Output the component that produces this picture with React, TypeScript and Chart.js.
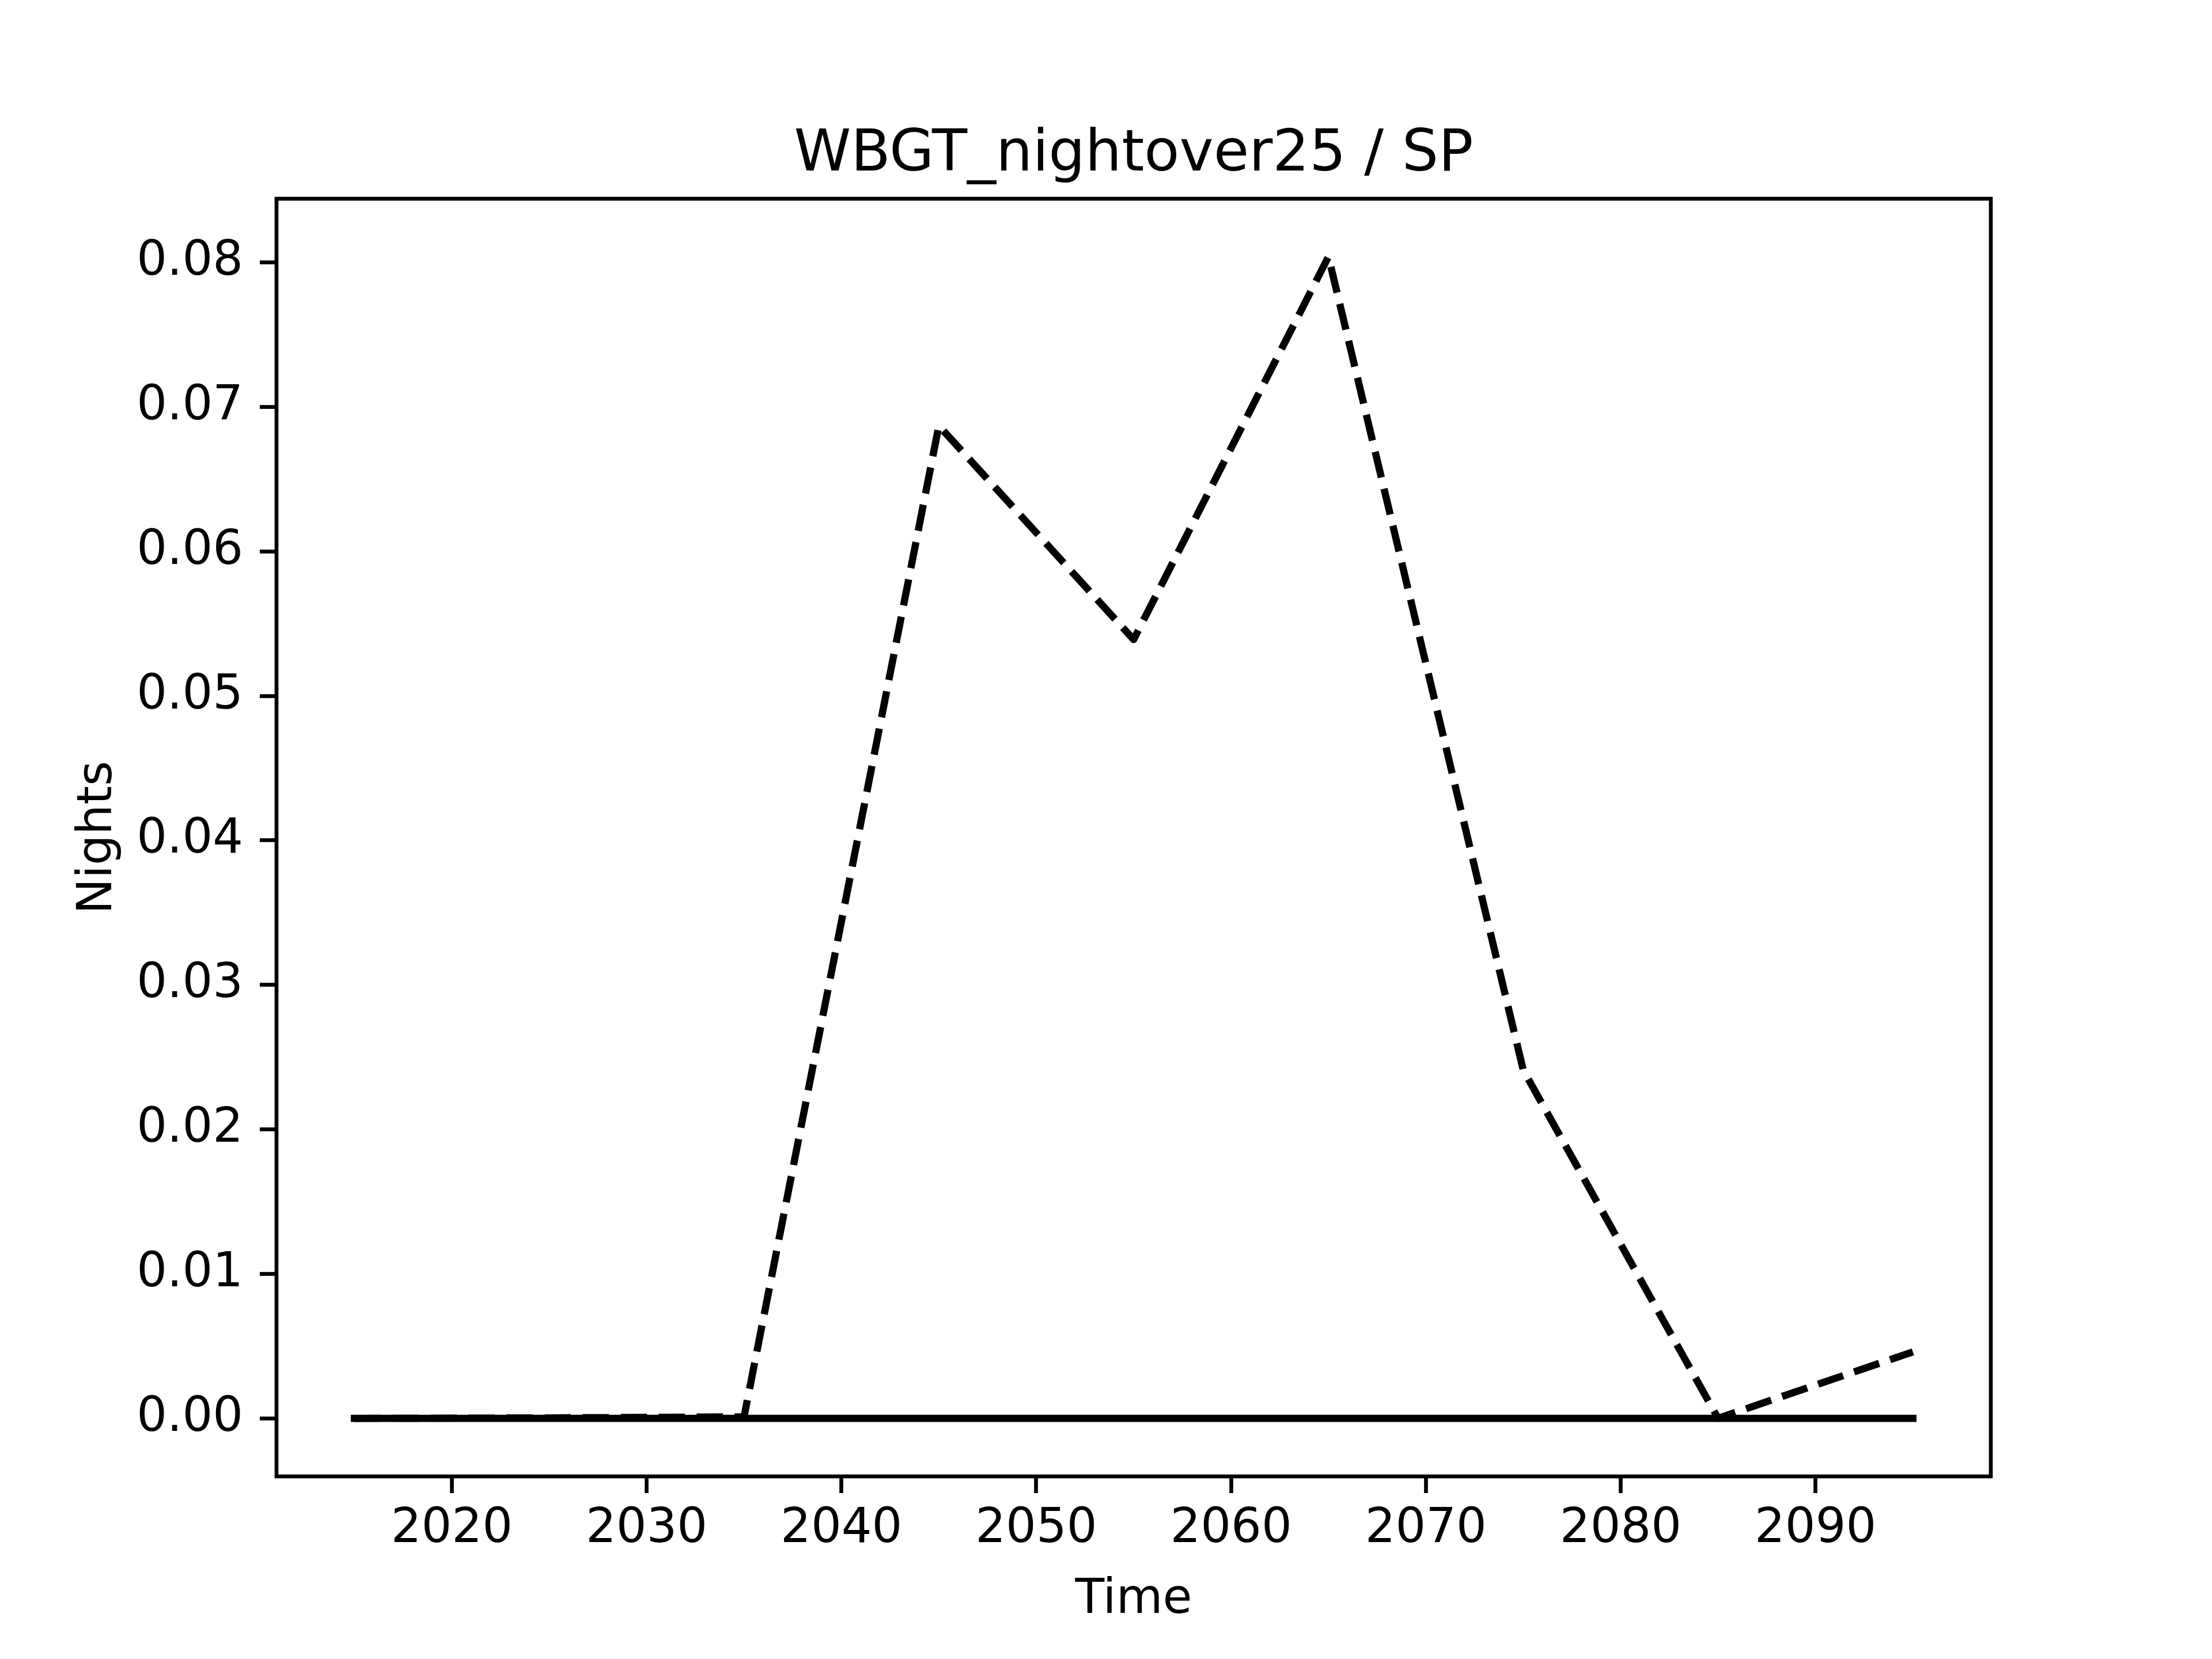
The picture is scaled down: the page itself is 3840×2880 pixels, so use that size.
import React, { useEffect, useRef } from "react";
import { Chart, registerables } from "chart.js";

Chart.register(...registerables);

const years = [2015, 2025, 2035, 2045, 2055, 2065, 2075, 2085, 2095];
const solidValues = [0, 0, 0, 0, 0, 0, 0, 0, 0];
const dashedValues = [0, 0.00003, 0.0001, 0.0687, 0.0539, 0.0804, 0.0241, 0, 0.0046];
const xTicks = [2020, 2030, 2040, 2050, 2060, 2070, 2080, 2090];
const yTicks = [0, 0.01, 0.02, 0.03, 0.04, 0.05, 0.06, 0.07, 0.08];
const titleText = "WBGT_nightover25 / SP";
const xLabel = "Time";
const yLabel = "Nights";

const W = 3840;
const H = 2880;
const FONT = "'DejaVu Sans', sans-serif";

export default function App() {
  const ref = useRef<HTMLCanvasElement | null>(null);

  useEffect(() => {
    const canvas = ref.current;
    if (!canvas) return;

    const textPlugin = {
      id: "mplText",
      afterDatasetsDraw(chart: any) {
        const ctx = chart.ctx;
        const a = chart.chartArea;
        ctx.save();
        // frame (spines)
        ctx.strokeStyle = "#000";
        ctx.lineWidth = 6.67;
        ctx.lineJoin = "miter";
        ctx.strokeRect(a.left, a.top, a.right - a.left, a.bottom - a.top);
        ctx.fillStyle = "#000";
        // title
        ctx.font = `100px ${FONT}`;
        ctx.textAlign = "center";
        ctx.textBaseline = "alphabetic";
        ctx.fillText(titleText, (a.left + a.right) / 2, 296);
        // x label
        ctx.font = `83px ${FONT}`;
        ctx.fillText(xLabel, (a.left + a.right) / 2, 2800);
        // y label
        ctx.translate(193, (a.top + a.bottom) / 2);
        ctx.rotate(-Math.PI / 2);
        ctx.fillText(yLabel, 0, 0);
        ctx.restore();
      },
    };

    const chart = new Chart(canvas, {
      type: "line",
      data: {
        datasets: [
          {
            label: "solid",
            data: years.map((x, i) => ({ x, y: solidValues[i] })),
            borderColor: "#000",
            backgroundColor: "#000",
            borderWidth: 12.5,
            borderCapStyle: "square",
            borderJoinStyle: "round",
            pointRadius: 0,
            tension: 0,
            fill: false,
          },
          {
            label: "dashed",
            data: years.map((x, i) => ({ x, y: dashedValues[i] })),
            borderColor: "#000",
            backgroundColor: "#000",
            borderWidth: 12.5,
            borderDash: [46, 20],
            borderCapStyle: "butt",
            borderJoinStyle: "round",
            pointRadius: 0,
            tension: 0,
            fill: false,
          },
        ],
      },
      options: {
        responsive: false,
        animation: false,
        devicePixelRatio: 1,
        events: [],
        layout: { padding: { left: 0, top: 345, right: 384, bottom: 0 } },
        plugins: {
          legend: { display: false },
          title: { display: false },
          tooltip: { enabled: false },
        },
        scales: {
          x: {
            type: "linear",
            min: 2011,
            max: 2099,
            afterBuildTicks: (s: any) => {
              s.ticks = xTicks.map((v) => ({ value: v }));
            },
            afterFit: (s: any) => {
              s.height = 317;
            },
            border: { display: false },
            grid: {
              display: true,
              drawOnChartArea: false,
              drawTicks: true,
              tickLength: 29,
              tickWidth: 6.67,
              tickColor: "#000",
            },
            ticks: {
              autoSkip: false,
              maxRotation: 0,
              minRotation: 0,
              padding: 14,
              color: "#000",
              font: { family: FONT, size: 83 },
              callback: (v: any) => String(v),
            },
          },
          y: {
            type: "linear",
            min: -0.00402,
            max: 0.08441,
            afterBuildTicks: (s: any) => {
              s.ticks = yTicks.map((v) => ({ value: v }));
            },
            afterFit: (s: any) => {
              s.width = 480;
            },
            border: { display: false },
            grid: {
              display: true,
              drawOnChartArea: false,
              drawTicks: true,
              tickLength: 29,
              tickWidth: 6.67,
              tickColor: "#000",
            },
            ticks: {
              padding: 29,
              color: "#000",
              font: { family: FONT, size: 83 },
              callback: (v: any) => Number(v).toFixed(2),
            },
          },
        },
      },
      plugins: [textPlugin],
    } as any);

    return () => chart.destroy();
  }, []);

  return (
    <div style={{ position: "fixed", left: 0, top: 0, width: W, height: H, background: "#fff" }}>
      <canvas ref={ref} width={W} height={H} style={{ width: W, height: H, display: "block" }} />
    </div>
  );
}
